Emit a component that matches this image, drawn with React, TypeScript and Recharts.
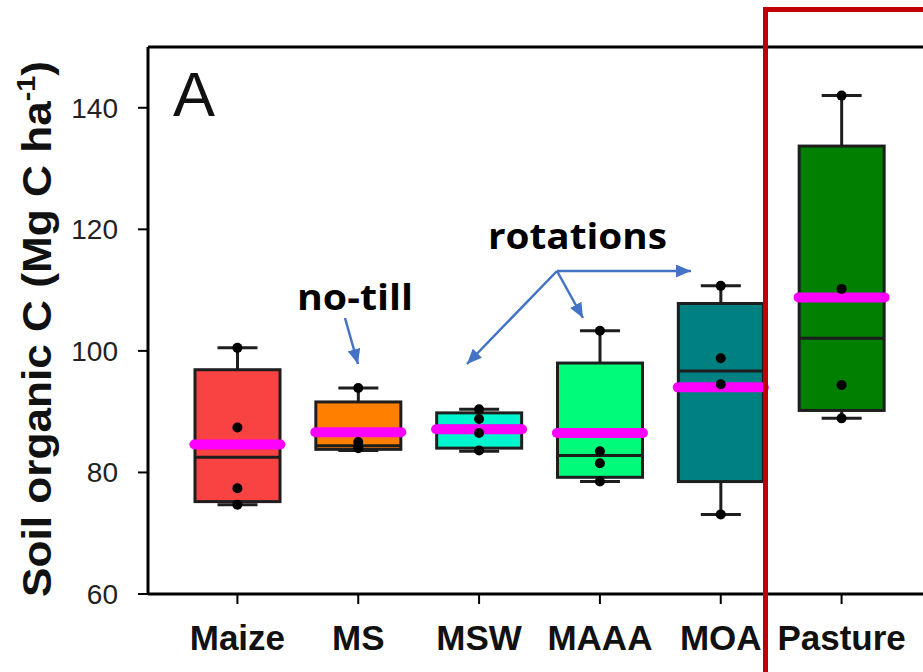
import { ComposedChart, Bar, Line, XAxis, YAxis, ReferenceLine } from "recharts";

// treatments on the x axis
const treatments = ["Maize", "MS", "MSW", "MAAA", "MOA", "Pasture"];

// box plot statistics, Mg C ha-1
const minValues = [74.7, 83.6, 83.5, 78.5, 73.1, 88.9];
const q1Values = [75.2, 83.8, 84.0, 79.2, 78.5, 90.2];
const medianValues = [82.5, 84.4, 87.6, 82.8, 96.7, 102.1];
const q3Values = [96.9, 91.6, 89.8, 98.0, 107.8, 133.7];
const maxValues = [100.5, 93.9, 90.4, 103.3, 110.7, 142.0];
const meanValues = [84.6, 86.6, 87.1, 86.5, 94.0, 108.8];

// individual plots (4 per treatment)
const plot1 = [100.5, 93.9, 90.4, 103.3, 110.7, 142.0];
const plot2 = [87.4, 85.0, 88.8, 83.5, 98.8, 110.2];
const plot3 = [77.4, 84.2, 86.5, 81.5, 94.5, 94.4];
const plot4 = [74.7, 84.0, 83.6, 78.5, 73.1, 88.9];

const yTicks = [60, 80, 100, 120, 140];

const boxColors = ["#f94343", "#ff8000", "#00f5cf", "#00fb7a", "#008080", "#007f00"];

const data = treatments.map((name, i) => ({
  name,
  range: [minValues[i], maxValues[i]],
  q1: q1Values[i],
  median: medianValues[i],
  q3: q3Values[i],
  mean: meanValues[i],
  p1: plot1[i],
  p2: plot2[i],
  p3: plot3[i],
  p4: plot4[i],
}));

const FONT = "'Liberation Sans', Arial, sans-serif";
const BLUE = "#4472c4";

function BoxShape(props: any) {
  const { x, y, width, height, payload, index } = props;
  const top = Math.min(y, y + height);
  const bottom = Math.max(y, y + height);
  const [lo, hi] = payload.range;
  const py = (v: number) => bottom - ((v - lo) / (hi - lo)) * (bottom - top);
  const cx = x + width / 2;
  const cap = 20;
  const edge = "#1e1e1e";
  return (
    <g>
      <line x1={cx} x2={cx} y1={py(hi)} y2={py(payload.q3)} stroke={edge} strokeWidth={3} />
      <line x1={cx} x2={cx} y1={py(payload.q1)} y2={py(lo)} stroke={edge} strokeWidth={3} />
      <line x1={cx - cap} x2={cx + cap} y1={py(hi)} y2={py(hi)} stroke={edge} strokeWidth={3} />
      <line x1={cx - cap} x2={cx + cap} y1={py(lo)} y2={py(lo)} stroke={edge} strokeWidth={3} />
      <rect
        x={x}
        y={py(payload.q3)}
        width={width}
        height={py(payload.q1) - py(payload.q3)}
        fill={boxColors[index]}
        stroke={edge}
        strokeWidth={3}
      />
      <line
        x1={x}
        x2={x + width}
        y1={py(payload.median)}
        y2={py(payload.median)}
        stroke={edge}
        strokeWidth={3}
      />
    </g>
  );
}

function MeanDot(props: any) {
  const { cx, cy } = props;
  if (cx == null || cy == null) return <g />;
  return (
    <line
      x1={cx - 43}
      x2={cx + 43}
      y1={cy}
      y2={cy}
      stroke="#ff00ff"
      strokeWidth={10}
      strokeLinecap="round"
    />
  );
}

const pointDot = { r: 5, fill: "#000", stroke: "none" };

export default function App() {
  return (
    <div
      style={{
        position: "fixed",
        left: 0,
        top: 0,
        width: 923,
        height: 672,
        overflow: "hidden",
        background: "#fff",
      }}
    >
      <ComposedChart
        width={940}
        height={672}
        data={data}
        margin={{ top: 47, right: 9, left: 0, bottom: 0 }}
      >
        <XAxis
          dataKey="name"
          height={78}
          padding={{ left: 29, right: 29 }}
          tickSize={10}
          tickMargin={21}
          axisLine={{ stroke: "#000", strokeWidth: 3 }}
          tickLine={{ stroke: "#000", strokeWidth: 2 }}
          tick={{ fill: "#111", fontSize: 35, fontWeight: "bold", fontFamily: FONT }}
          interval={0}
        />
        <YAxis
          width={148}
          domain={[60, 150]}
          ticks={yTicks}
          tickSize={10}
          tickMargin={20}
          axisLine={{ stroke: "#000", strokeWidth: 3 }}
          tickLine={{ stroke: "#000", strokeWidth: 2 }}
          tick={{ fill: "#222", fontSize: 28, fontFamily: FONT }}
        />
        <ReferenceLine y={150} stroke="#000" strokeWidth={3} />
        <Bar dataKey="range" barSize={85} shape={<BoxShape />} isAnimationActive={false} />
        <Line
          dataKey="mean"
          stroke="none"
          dot={<MeanDot />}
          activeDot={false}
          isAnimationActive={false}
        />
        {["p1", "p2", "p3", "p4"].map((k) => (
          <Line
            key={k}
            dataKey={k}
            stroke="none"
            dot={pointDot}
            activeDot={false}
            isAnimationActive={false}
          />
        ))}
      </ComposedChart>

      <svg
        width={923}
        height={672}
        style={{ position: "absolute", left: 0, top: 0, pointerEvents: "none" }}
      >
        <defs>
          <marker
            id="head"
            markerUnits="userSpaceOnUse"
            markerWidth={15}
            markerHeight={13}
            refX={15}
            refY={6.5}
            orient="auto"
          >
            <path d="M0,0 L15,6.5 L0,13 z" fill={BLUE} />
          </marker>
        </defs>
        <text
          x={51}
          y={329}
          transform="rotate(-90 51 329)"
          textAnchor="middle"
          fontFamily={FONT}
          fontWeight="bold"
          fontSize={40}
          textLength={536}
          lengthAdjust="spacingAndGlyphs"
          fill="#111"
        >
          Soil organic C (Mg C ha
          <tspan fontSize={26} dy={-16}>
            -1
          </tspan>
          <tspan dy={16}>)</tspan>
        </text>
        <text x={173} y={116} fontFamily={FONT} fontSize={63} fill="#111">
          A
        </text>
        <text
          x={297}
          y={310}
          fontFamily="'Open Sans', sans-serif"
          fontWeight="bold"
          fontSize={36}
          textLength={116}
          lengthAdjust="spacingAndGlyphs"
          fill="#000"
        >
          no-till
        </text>
        <text
          x={488}
          y={249}
          fontFamily="'Open Sans', sans-serif"
          fontWeight="bold"
          fontSize={36}
          textLength={179}
          lengthAdjust="spacingAndGlyphs"
          fill="#000"
        >
          rotations
        </text>
        <line x1={345} y1={318} x2={358} y2={364} stroke={BLUE} strokeWidth={2.5} markerEnd="url(#head)" />
        <line x1={557} y1={271} x2={691} y2={271} stroke={BLUE} strokeWidth={2.5} markerEnd="url(#head)" />
        <line x1={557} y1={271} x2={583} y2={318} stroke={BLUE} strokeWidth={2.5} markerEnd="url(#head)" />
        <line x1={557} y1={271} x2={467} y2={364} stroke={BLUE} strokeWidth={2.5} markerEnd="url(#head)" />
      </svg>

      <div
        style={{
          position: "absolute",
          left: 763,
          top: 7,
          width: 300,
          height: 720,
          border: "5px solid #c00000",
          boxSizing: "border-box",
        }}
      />
    </div>
  );
}
